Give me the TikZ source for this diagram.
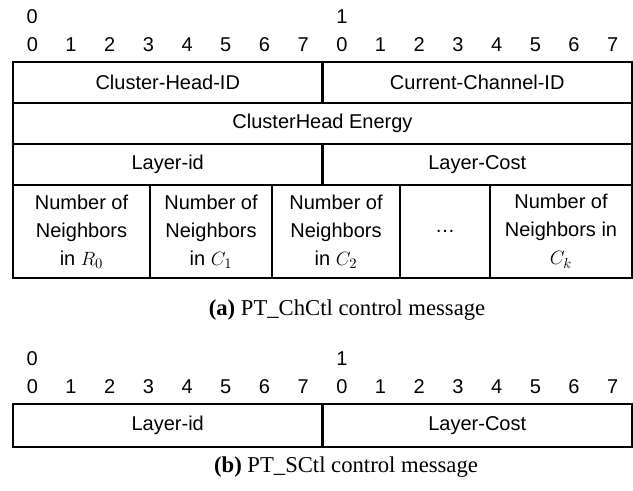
\documentclass[tikz,border=0pt]{standalone}
\usepackage{fontspec}
\setmainfont{Liberation Serif}
\setsansfont{Liberation Sans}
\usepackage{amsmath}

\tikzset{
  field/.style={draw, line width=1.5pt, inner sep=0pt, align=center,
    font=\sffamily\fontsize{15}{21}\selectfont},
  bitnum/.style={inner sep=0pt, font=\sffamily\fontsize{15}{18}\selectfont},
  caption/.style={inner sep=0pt, font=\fontsize{17}{20}\selectfont}
}

\begin{document}
\begin{tikzpicture}[x=0.75pt,y=-0.75pt]
\useasboundingbox (0,0) rectangle (633,490);
% (a) byte and bit numbers
\node[bitnum] (bytea0) at (32.3,17) {0};
\node[bitnum] (bytea1) at (341.9,17) {1};
\foreach \i in {0,...,15} {
  \pgfmathtruncatemacro{\b}{mod(\i,8)}
  \node[bitnum] (bita\i) at ({13+38.69*(\i+0.5)},45) {\b};
}
% (a) fields
\node[field, minimum width=232.1pt, minimum height=30.75pt] (chid) at (167.75,82.5) {Cluster-Head-ID};
\node[field, minimum width=232.1pt, minimum height=30.75pt] (chan) at (477.25,82.5) {Current-Channel-ID};
\node[field, minimum width=464.25pt, minimum height=30.75pt] (energy) at (322.5,123.5) {ClusterHead Energy};
\node[field, minimum width=232.1pt, minimum height=30.75pt] (layid) at (167.75,164.5) {Layer-id};
\node[field, minimum width=232.1pt, minimum height=30.75pt] (laycost) at (477.25,164.5) {Layer-Cost};
\node[field, minimum width=102.75pt, minimum height=69.75pt] (nr0) at (81.5,231.5) {Number of\\Neighbors\\in $R_0$};
\node[field, minimum width=91.5pt, minimum height=69.75pt] (nc1) at (211,231.5) {Number of\\Neighbors\\in $C_1$};
\node[field, minimum width=96pt, minimum height=69.75pt] (nc2) at (336,231.5) {Number of\\Neighbors\\in $C_2$};
\node[field, minimum width=67.5pt, minimum height=69.75pt] (ndots) at (445,231.5) {…};
\node[field, minimum width=106.5pt, minimum height=69.75pt] (nck) at (561,231.5) {Number of\\Neighbors in\\$C_k$};
\node[caption] (capa) at (347,310) {\textbf{(a)} PT\_ChCtl control message};
% (b) byte and bit numbers
\node[bitnum] (byteb0) at (32.3,359) {0};
\node[bitnum] (byteb1) at (341.9,359) {1};
\foreach \i in {0,...,15} {
  \pgfmathtruncatemacro{\b}{mod(\i,8)}
  \node[bitnum] (bitb\i) at ({13+38.69*(\i+0.5)},387) {\b};
}
% (b) fields
\node[field, minimum width=232.1pt, minimum height=32.25pt] (layidb) at (167.75,425.5) {Layer-id};
\node[field, minimum width=232.1pt, minimum height=32.25pt] (laycostb) at (477.25,425.5) {Layer-Cost};
\node[caption] (capb) at (346,467) {\textbf{(b)} PT\_SCtl control message};
\end{tikzpicture}
\end{document}
